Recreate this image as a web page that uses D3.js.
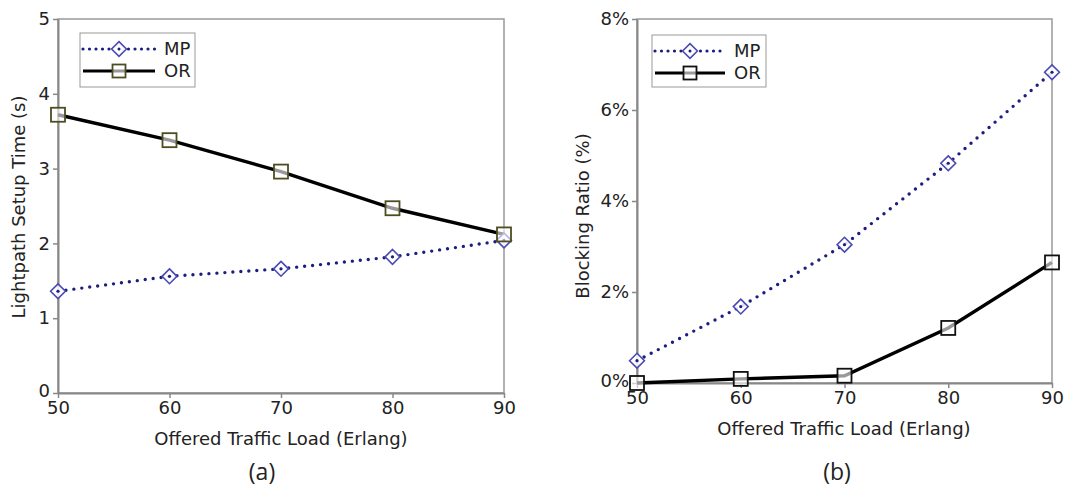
<!DOCTYPE html>
<html>
<head>
<meta charset="utf-8">
<script src="https://cdn.jsdelivr.net/npm/d3@7"></script>
<style>
  body { margin: 0; background: #fff; }
  svg { display: block; }
  text { font-family: "DejaVu Sans", Verdana, sans-serif; fill: #222; }
</style>
</head>
<body>
<div id="chart"></div>
<script>
// ----- data -----
const loads = [50, 60, 70, 80, 90];

// (a) lightpath setup time in seconds
const setupMP = [1.36, 1.56, 1.66, 1.82, 2.04];
const setupOR = [3.72, 3.38, 2.96, 2.47, 2.12];
const setupTicks = [0, 1, 2, 3, 4, 5];

// (b) blocking ratio (fraction)
const blockMP = [0.0049, 0.0168, 0.0304, 0.0483, 0.0683];
const blockOR = [0.0000, 0.0009, 0.0016, 0.0121, 0.0265];
const blockTicks = [0, 0.02, 0.04, 0.06, 0.08];

const seriesNames = ["MP", "OR"];

const width = 1088, height = 486;
const fontSize = "18px";

const svg = d3.select("#chart")
  .append("svg")
  .attr("width", width)
  .attr("height", height);

// one panel = one small line chart
function drawPanel(opt) {
  const x = d3.scaleLinear().domain([50, 90]).range([opt.left, opt.right]);
  const y = d3.scaleLinear().domain(opt.yDomain).range([opt.bottom, opt.top]);

  const g = svg.append("g");

  // frame (top + right)
  g.append("rect")
    .attr("x", opt.left)
    .attr("y", opt.top)
    .attr("width", opt.right - opt.left)
    .attr("height", opt.bottom - opt.top)
    .attr("fill", "none")
    .attr("stroke", "#999")
    .attr("stroke-width", 1.5);

  // axes
  const yAxis = d3.axisLeft(y)
    .tickValues(opt.yTicks)
    .tickFormat(opt.yFormat)
    .tickSizeInner(5)
    .tickSizeOuter(0)
    .tickPadding(3);

  const xAxis = d3.axisBottom(x)
    .tickValues(loads)
    .tickSizeInner(5)
    .tickSizeOuter(0)
    .tickPadding(3);

  const ya = g.append("g")
    .attr("transform", `translate(${opt.left},0)`)
    .call(yAxis);
  const xa = g.append("g")
    .attr("transform", `translate(0,${opt.bottom})`)
    .call(xAxis);

  [ya, xa].forEach(a => {
    a.select(".domain").attr("stroke", "#888").attr("stroke-width", 2);
    a.selectAll(".tick line").attr("stroke", "#888").attr("stroke-width", 1.5);
    a.selectAll(".tick text")
      .style("font-family", "DejaVu Sans, sans-serif")
      .style("font-size", fontSize)
      .attr("fill", "#222");
  });
  // the bottom y label sits a little higher so it clears the x labels
  ya.selectAll(".tick text").filter(d => d === 0).attr("dy", "0.2em");

  // lines
  const line = d3.line()
    .x((d, i) => x(loads[i]))
    .y(d => y(d));

  g.append("path")
    .datum(opt.mp)
    .attr("fill", "none")
    .attr("stroke", "#1d1d80")
    .attr("stroke-width", 3.4)
    .attr("stroke-linecap", "round")
    .attr("stroke-dasharray", "0,8")
    .attr("d", line);

  g.append("path")
    .datum(opt.or)
    .attr("fill", "none")
    .attr("stroke", "#000")
    .attr("stroke-width", 3.4)
    .attr("d", line);

  // markers
  const diamond = d3.symbol().type(d3.symbolDiamond2).size(140);
  g.selectAll(".mp")
    .data(opt.mp)
    .join("path")
      .attr("transform", (d, i) => `translate(${x(loads[i])},${y(d)})`)
      .attr("d", diamond)
      .attr("fill", "#fff")
      .attr("fill-opacity", 0.85)
      .attr("stroke", "#4a4ab5")
      .attr("stroke-width", 1.6);
  g.selectAll(".mpdot")
    .data(opt.mp)
    .join("circle")
      .attr("cx", (d, i) => x(loads[i]))
      .attr("cy", d => y(d))
      .attr("r", 1.6)
      .attr("fill", "#1d1d80");

  g.selectAll(".or")
    .data(opt.or)
    .join("rect")
      .attr("x", (d, i) => x(loads[i]) - 7)
      .attr("y", d => y(d) - 7)
      .attr("width", 14)
      .attr("height", 14)
      .attr("fill", "#fff")
      .attr("fill-opacity", 0.6)
      .attr("stroke", opt.squareColor)
      .attr("stroke-width", 1.8);

  // axis titles
  g.append("text")
    .attr("x", opt.xTitleX)
    .attr("y", opt.xTitleY)
    .attr("text-anchor", "middle")
    .style("font-size", fontSize)
    .text("Offered Traffic Load (Erlang)");

  g.append("text")
    .attr("transform", `translate(${opt.yTitleX},${opt.yTitleY}) rotate(-90)`)
    .attr("text-anchor", "middle")
    .attr("dy", "0.35em")
    .style("font-size", fontSize)
    .text(opt.yTitle);

  // panel label
  g.append("text")
    .attr("x", opt.labelX)
    .attr("y", 480)
    .attr("text-anchor", "middle")
    .style("font-family", "Open Sans, sans-serif")
    .style("font-size", "23px")
    .attr("fill", "#111")
    .text(opt.label);

  // legend
  const L = opt.legend;
  const lg = g.append("g");
  lg.append("rect")
    .attr("x", L.x).attr("y", L.y)
    .attr("width", L.w).attr("height", L.h)
    .attr("fill", "#fff")
    .attr("stroke", "#999")
    .attr("stroke-width", 1);

  seriesNames.forEach((name, i) => {
    const cy = L.y + (i === 0 ? 16 : 38);
    const x0 = L.x + 3, x1 = L.x + L.lineW;
    const mx = (x0 + x1) / 2;
    if (name === "MP") {
      lg.append("line")
        .attr("x1", x0).attr("x2", x1).attr("y1", cy).attr("y2", cy)
        .attr("stroke", "#1d1d80").attr("stroke-width", 3.2)
        .attr("stroke-linecap", "round").attr("stroke-dasharray", "0,6.5");
      lg.append("path")
        .attr("transform", `translate(${mx},${cy})`)
        .attr("d", diamond)
        .attr("fill", "#fff").attr("stroke", "#4a4ab5").attr("stroke-width", 1.6);
      lg.append("circle").attr("cx", mx).attr("cy", cy).attr("r", 1.5).attr("fill", "#1d1d80");
    } else {
      lg.append("line")
        .attr("x1", x0).attr("x2", x1).attr("y1", cy).attr("y2", cy)
        .attr("stroke", "#000").attr("stroke-width", 3.2);
      lg.append("rect")
        .attr("x", mx - 6.5).attr("y", cy - 6.5).attr("width", 13).attr("height", 13)
        .attr("fill", "#fff").attr("fill-opacity", 0.6)
        .attr("stroke", opt.squareColor).attr("stroke-width", 1.8);
    }
    lg.append("text")
      .attr("x", x1 + 9)
      .attr("y", cy)
      .attr("dy", "0.35em")
      .style("font-size", fontSize)
      .text(name);
  });
}

drawPanel({
  left: 58, right: 504, top: 19, bottom: 393,
  yDomain: [0, 5], yTicks: setupTicks, yFormat: d3.format("d"),
  mp: setupMP, or: setupOR, squareColor: "#4d4d22",
  xTitleX: 281, xTitleY: 445,
  yTitleX: 19, yTitleY: 207, yTitle: "Lightpath Setup Time (s)",
  label: "(a)", labelX: 262,
  legend: { x: 80, y: 33, w: 115, h: 54, lineW: 75 }
});

drawPanel({
  left: 637, right: 1052, top: 19, bottom: 383,
  yDomain: [0, 0.08], yTicks: blockTicks, yFormat: d3.format(".0%"),
  mp: blockMP, or: blockOR, squareColor: "#111",
  xTitleX: 844, xTitleY: 435,
  yTitleX: 583, yTitleY: 216, yTitle: "Blocking Ratio (%)",
  label: "(b)", labelX: 837,
  legend: { x: 652, y: 35, w: 114, h: 52, lineW: 73 }
});
</script>
</body>
</html>
